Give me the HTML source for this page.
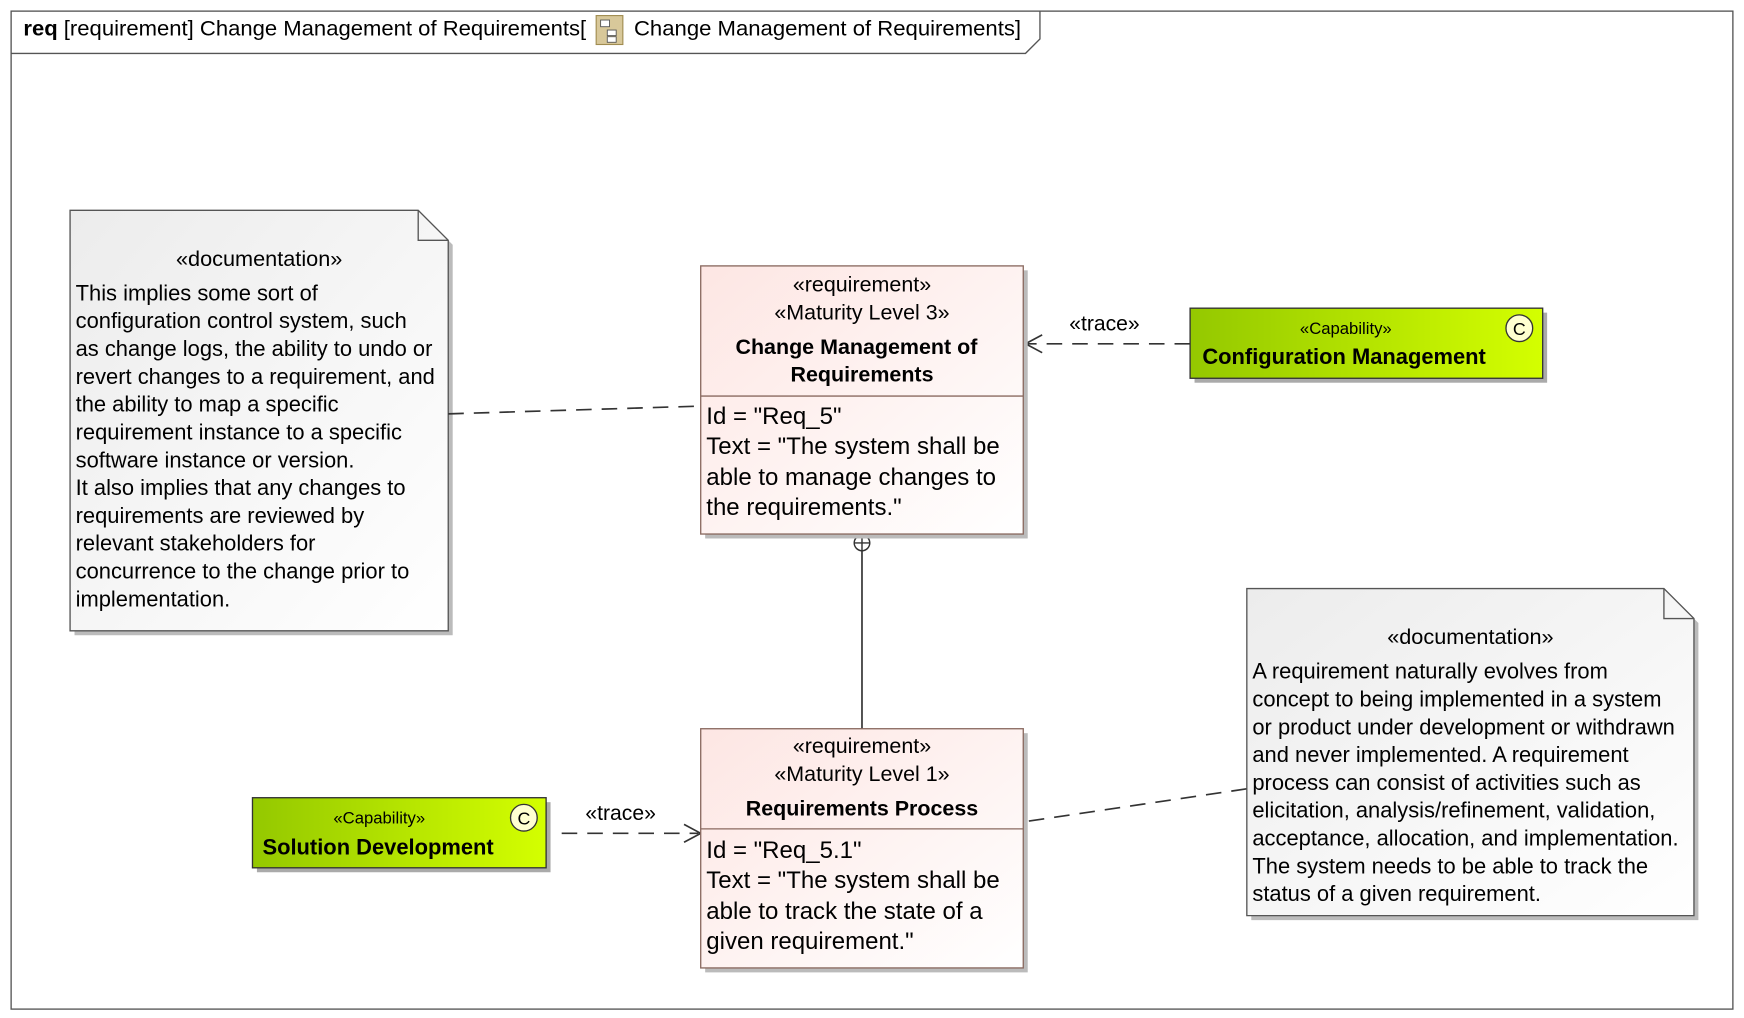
<!DOCTYPE html>
<html><head><meta charset="utf-8"><style>
html,body{margin:0;padding:0;background:#fff;}
svg{display:block;}
text{font-family:"Liberation Sans",Arial,sans-serif;fill:#000;}
</style></head><body>
<svg width="1744" height="1018" viewBox="0 0 1568 915" preserveAspectRatio="none" xmlns="http://www.w3.org/2000/svg">
<defs>
<linearGradient id="pk" x1="0" y1="0" x2="1" y2="1"><stop offset="0" stop-color="#fde6e3"/><stop offset="1" stop-color="#ffffff"/></linearGradient>
<linearGradient id="gr" x1="0" y1="0" x2="1" y2="0"><stop offset="0" stop-color="#94c800"/><stop offset="1" stop-color="#d4ff00"/></linearGradient>
<linearGradient id="nt" x1="0" y1="0" x2="1" y2="1"><stop offset="0" stop-color="#ececec"/><stop offset="1" stop-color="#ffffff"/></linearGradient>
</defs>
<rect x="10" y="10" width="1548" height="897" fill="#fff" stroke="#555" stroke-width="1.2"/>
<path d="M10 48 L922 48 L935 35 L935 10" fill="none" stroke="#555" stroke-width="1.2"/>
<text x="21" y="32" font-size="19" textLength="506" lengthAdjust="spacingAndGlyphs"><tspan font-weight="bold">req</tspan> [requirement] Change Management of Requirements[</text>
<rect x="536" y="14" width="24" height="26" fill="#d8c89a" stroke="#a08c50"/>
<rect x="540" y="18" width="8" height="6" fill="#fff" stroke="#555" stroke-width="0.8"/>
<rect x="546" y="27" width="8" height="5" fill="#fff" stroke="#555" stroke-width="0.8"/>
<rect x="546" y="33" width="8" height="5" fill="#fff" stroke="#555" stroke-width="0.8"/>
<text x="570" y="32" font-size="19" textLength="348" lengthAdjust="spacingAndGlyphs">Change Management of Requirements]</text>

<!-- note 1 -->
<path d="M67 193 L380 193 L407 220 L407 571 L67 571 Z" fill="#bbb"/>
<path d="M63 189 L376 189 L403 216 L403 567 L63 567 Z" fill="url(#nt)" stroke="#555" stroke-width="1.2"/>
<path d="M376 189 L376 216 L403 216" fill="none" stroke="#555" stroke-width="1.2"/>
<text x="233" y="239" font-size="19.5" text-anchor="middle">«documentation»</text>
<g font-size="19.7"><text x="68" y="270">This implies some sort of</text><text x="68" y="295">configuration control system, such</text><text x="68" y="320">as change logs, the ability to undo or</text><text x="68" y="345">revert changes to a requirement, and</text><text x="68" y="370">the ability to map a specific</text><text x="68" y="395">requirement instance to a specific</text><text x="68" y="420">software instance or version.</text><text x="68" y="445">It also implies that any changes to</text><text x="68" y="470">requirements are reviewed by</text><text x="68" y="495">relevant stakeholders for</text><text x="68" y="520">concurrence to the change prior to</text><text x="68" y="545">implementation.</text></g>

<!-- connectors -->
<path d="M403 372 L630 365" stroke="#333" stroke-width="1.5" stroke-dasharray="14,9" fill="none"/>
<path d="M1070 309 L923 309" stroke="#333" stroke-width="1.5" stroke-dasharray="14,9" fill="none"/>
<path d="M937 301 L922 309 L937 317" stroke="#333" stroke-width="1.5" fill="none"/>
<text x="993" y="297" font-size="19" text-anchor="middle">«trace»</text>
<path d="M775 480 L775 655" stroke="#333" stroke-width="1.5"/>
<circle cx="775" cy="488" r="7" fill="#fff" stroke="#333" stroke-width="1.3"/>
<path d="M768 488 H782 M775 481 V495" stroke="#333" stroke-width="1.3"/>
<path d="M505 749 L628 749" stroke="#333" stroke-width="1.5" stroke-dasharray="14,9" fill="none"/>
<path d="M615 741 L630 749 L615 757" stroke="#333" stroke-width="1.5" fill="none"/>
<text x="558" y="737" font-size="19" text-anchor="middle">«trace»</text>
<path d="M925 738 L1121 709" stroke="#333" stroke-width="1.5" stroke-dasharray="14,9" fill="none"/>

<!-- req 1 -->
<rect x="634" y="243" width="290" height="241" fill="#bbb"/>
<rect x="630" y="239" width="290" height="241" fill="url(#pk)" stroke="#8a6a60" stroke-width="1.2"/>
<path d="M630 356 H920" stroke="#8a6a60" stroke-width="1.2"/>
<g font-size="19.3" text-anchor="middle"><text x="775" y="262">«requirement»</text><text x="775" y="287">«Maturity Level 3»</text><text x="770" y="318" font-weight="bold">Change Management of</text><text x="775" y="343" font-weight="bold">Requirements</text></g>
<g font-size="21.6"><text x="635" y="381">Id = "Req_5"</text><text x="635" y="408">Text = "The system shall be</text><text x="635" y="436">able to manage changes to</text><text x="635" y="463">the requirements."</text></g>

<!-- req 2 -->
<rect x="634" y="659" width="290" height="215" fill="#bbb"/>
<rect x="630" y="655" width="290" height="215" fill="url(#pk)" stroke="#8a6a60" stroke-width="1.2"/>
<path d="M630 745 H920" stroke="#8a6a60" stroke-width="1.2"/>
<g font-size="19.3" text-anchor="middle"><text x="775" y="677">«requirement»</text><text x="775" y="702">«Maturity Level 1»</text><text x="775" y="733" font-weight="bold">Requirements Process</text></g>
<g font-size="21.6"><text x="635" y="771">Id = "Req_5.1"</text><text x="635" y="798">Text = "The system shall be</text><text x="635" y="826">able to track the state of a</text><text x="635" y="853">given requirement."</text></g>

<!-- config mgmt -->
<rect x="1074" y="281" width="317" height="63" fill="#aaa"/>
<rect x="1070" y="277" width="317" height="63" fill="url(#gr)" stroke="#333" stroke-width="1.2"/>
<text x="1210" y="300" font-size="15" text-anchor="middle">«Capability»</text>
<text x="1081" y="327" font-size="19.7" font-weight="bold">Configuration Management</text>
<circle cx="1366" cy="295" r="12" fill="#ffffd0" stroke="#333" stroke-width="1.2"/>
<text x="1366" y="301" font-size="16" text-anchor="middle">C</text>

<!-- solution dev -->
<rect x="231" y="721" width="264" height="63" fill="#aaa"/>
<rect x="227" y="717" width="264" height="63" fill="url(#gr)" stroke="#333" stroke-width="1.2"/>
<text x="341" y="740" font-size="15" text-anchor="middle">«Capability»</text>
<text x="236" y="768" font-size="19.7" font-weight="bold">Solution Development</text>
<circle cx="471" cy="735" r="12" fill="#ffffd0" stroke="#333" stroke-width="1.2"/>
<text x="471" y="741" font-size="16" text-anchor="middle">C</text>

<!-- note 2 -->
<path d="M1125 533 L1500 533 L1527 560 L1527 827 L1125 827 Z" fill="#bbb"/>
<path d="M1121 529 L1496 529 L1523 556 L1523 823 L1121 823 Z" fill="url(#nt)" stroke="#555" stroke-width="1.2"/>
<path d="M1496 529 L1496 556 L1523 556" fill="none" stroke="#555" stroke-width="1.2"/>
<text x="1322" y="579" font-size="19.5" text-anchor="middle">«documentation»</text>
<g font-size="19.7"><text x="1126" y="610">A requirement naturally evolves from</text><text x="1126" y="635">concept to being implemented in a system</text><text x="1126" y="660">or product under development or withdrawn</text><text x="1126" y="685">and never implemented. A requirement</text><text x="1126" y="710">process can consist of activities such as</text><text x="1126" y="735">elicitation, analysis/refinement, validation,</text><text x="1126" y="760">acceptance, allocation, and implementation.</text><text x="1126" y="785">The system needs to be able to track the</text><text x="1126" y="810">status of a given requirement.</text></g>
</svg>
</body></html>
